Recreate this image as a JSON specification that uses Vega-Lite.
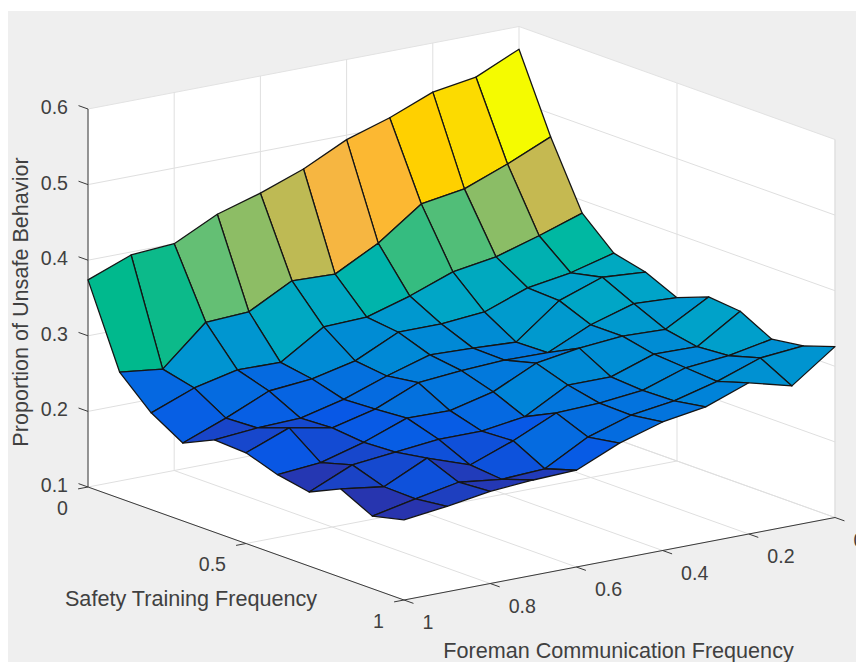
{"$schema":"https://vega.github.io/schema/vega-lite/v6.json","width":848,"height":651,"padding":{"left":8,"top":11,"right":0,"bottom":0},"autosize":"none","background":"white","view":{"fill":"#efefef","stroke":null},
"data":{"values":[
{"kind":"wall","ord":0,"f":1,"t":0,"z":0.1},{"kind":"wall","ord":1,"f":1,"t":0,"z":0.6},{"kind":"wall","ord":2,"f":0,"t":0,"z":0.6},{"kind":"wall","ord":3,"f":0,"t":1,"z":0.6},{"kind":"wall","ord":4,"f":0,"t":1,"z":0.1},{"kind":"wall","ord":5,"f":1,"t":1,"z":0.1},
{"kind":"grid","id":"z1","ord":0,"f":1,"t":0,"z":0.1},{"kind":"grid","id":"z1","ord":1,"f":0,"t":0,"z":0.1},{"kind":"grid","id":"z1","ord":2,"f":0,"t":1,"z":0.1},
{"kind":"grid","id":"z2","ord":0,"f":1,"t":0,"z":0.2},{"kind":"grid","id":"z2","ord":1,"f":0,"t":0,"z":0.2},{"kind":"grid","id":"z2","ord":2,"f":0,"t":1,"z":0.2},
{"kind":"grid","id":"z3","ord":0,"f":1,"t":0,"z":0.3},{"kind":"grid","id":"z3","ord":1,"f":0,"t":0,"z":0.3},{"kind":"grid","id":"z3","ord":2,"f":0,"t":1,"z":0.3},
{"kind":"grid","id":"z4","ord":0,"f":1,"t":0,"z":0.4},{"kind":"grid","id":"z4","ord":1,"f":0,"t":0,"z":0.4},{"kind":"grid","id":"z4","ord":2,"f":0,"t":1,"z":0.4},
{"kind":"grid","id":"z5","ord":0,"f":1,"t":0,"z":0.5},{"kind":"grid","id":"z5","ord":1,"f":0,"t":0,"z":0.5},{"kind":"grid","id":"z5","ord":2,"f":0,"t":1,"z":0.5},
{"kind":"grid","id":"f0","ord":0,"f":0,"t":1,"z":0.1},{"kind":"grid","id":"f0","ord":1,"f":0,"t":0,"z":0.1},{"kind":"grid","id":"f0","ord":2,"f":0,"t":0,"z":0.6},
{"kind":"grid","id":"f2","ord":0,"f":0.2,"t":1,"z":0.1},{"kind":"grid","id":"f2","ord":1,"f":0.2,"t":0,"z":0.1},{"kind":"grid","id":"f2","ord":2,"f":0.2,"t":0,"z":0.6},
{"kind":"grid","id":"f4","ord":0,"f":0.4,"t":1,"z":0.1},{"kind":"grid","id":"f4","ord":1,"f":0.4,"t":0,"z":0.1},{"kind":"grid","id":"f4","ord":2,"f":0.4,"t":0,"z":0.6},
{"kind":"grid","id":"f6","ord":0,"f":0.6,"t":1,"z":0.1},{"kind":"grid","id":"f6","ord":1,"f":0.6,"t":0,"z":0.1},{"kind":"grid","id":"f6","ord":2,"f":0.6,"t":0,"z":0.6},
{"kind":"grid","id":"f8","ord":0,"f":0.8,"t":1,"z":0.1},{"kind":"grid","id":"f8","ord":1,"f":0.8,"t":0,"z":0.1},{"kind":"grid","id":"f8","ord":2,"f":0.8,"t":0,"z":0.6},
{"kind":"grid","id":"t5","ord":0,"f":1,"t":0.5,"z":0.1},{"kind":"grid","id":"t5","ord":1,"f":0,"t":0.5,"z":0.1},{"kind":"grid","id":"t5","ord":2,"f":0,"t":0.5,"z":0.6},
{"kind":"grid","id":"t10","ord":0,"f":0,"t":1,"z":0.1},{"kind":"grid","id":"t10","ord":1,"f":0,"t":1,"z":0.6},
{"kind":"axis","id":"az","ord":0,"f":1,"t":0,"z":0.1},{"kind":"axis","id":"az","ord":1,"f":1,"t":0,"z":0.6},
{"kind":"axis","id":"at","ord":0,"f":1,"t":0,"z":0.1},{"kind":"axis","id":"at","ord":1,"f":1,"t":1,"z":0.1},
{"kind":"axis","id":"af","ord":0,"f":1,"t":1,"z":0.1},{"kind":"axis","id":"af","ord":1,"f":0,"t":1,"z":0.1},
{"kind":"axis","id":"kz1","ord":0,"f":1,"t":0,"z":0.1},{"kind":"axis","id":"kz1","ord":1,"f":1,"t":-0.03,"z":0.1},
{"kind":"axis","id":"kz2","ord":0,"f":1,"t":0,"z":0.2},{"kind":"axis","id":"kz2","ord":1,"f":1,"t":-0.03,"z":0.2},
{"kind":"axis","id":"kz3","ord":0,"f":1,"t":0,"z":0.3},{"kind":"axis","id":"kz3","ord":1,"f":1,"t":-0.03,"z":0.3},
{"kind":"axis","id":"kz4","ord":0,"f":1,"t":0,"z":0.4},{"kind":"axis","id":"kz4","ord":1,"f":1,"t":-0.03,"z":0.4},
{"kind":"axis","id":"kz5","ord":0,"f":1,"t":0,"z":0.5},{"kind":"axis","id":"kz5","ord":1,"f":1,"t":-0.03,"z":0.5},
{"kind":"axis","id":"kz6","ord":0,"f":1,"t":0,"z":0.6},{"kind":"axis","id":"kz6","ord":1,"f":1,"t":-0.03,"z":0.6},
{"kind":"axis","id":"kt0","ord":0,"f":1,"t":0,"z":0.1},{"kind":"axis","id":"kt0","ord":1,"f":1.023,"t":0,"z":0.1},
{"kind":"axis","id":"kt5","ord":0,"f":1,"t":0.5,"z":0.1},{"kind":"axis","id":"kt5","ord":1,"f":1.023,"t":0.5,"z":0.1},
{"kind":"axis","id":"kt1","ord":0,"f":1,"t":1,"z":0.1},{"kind":"axis","id":"kt1","ord":1,"f":1.023,"t":1,"z":0.1},
{"kind":"axis","id":"kf0","ord":0,"f":0,"t":1,"z":0.1},{"kind":"axis","id":"kf0","ord":1,"f":0,"t":1.03,"z":0.1},
{"kind":"axis","id":"kf2","ord":0,"f":0.2,"t":1,"z":0.1},{"kind":"axis","id":"kf2","ord":1,"f":0.2,"t":1.03,"z":0.1},
{"kind":"axis","id":"kf4","ord":0,"f":0.4,"t":1,"z":0.1},{"kind":"axis","id":"kf4","ord":1,"f":0.4,"t":1.03,"z":0.1},
{"kind":"axis","id":"kf6","ord":0,"f":0.6,"t":1,"z":0.1},{"kind":"axis","id":"kf6","ord":1,"f":0.6,"t":1.03,"z":0.1},
{"kind":"axis","id":"kf8","ord":0,"f":0.8,"t":1,"z":0.1},{"kind":"axis","id":"kf8","ord":1,"f":0.8,"t":1.03,"z":0.1},
{"kind":"axis","id":"kf1","ord":0,"f":1,"t":1,"z":0.1},{"kind":"axis","id":"kf1","ord":1,"f":1,"t":1.03,"z":0.1},
{"kind":"lz","label":"0.1","f":1,"t":0,"z":0.1},{"kind":"lz","label":"0.2","f":1,"t":0,"z":0.2},{"kind":"lz","label":"0.3","f":1,"t":0,"z":0.3},{"kind":"lz","label":"0.4","f":1,"t":0,"z":0.4},{"kind":"lz","label":"0.5","f":1,"t":0,"z":0.5},{"kind":"lz","label":"0.6","f":1,"t":0,"z":0.6},
{"kind":"lt","label":"0","f":1,"t":0,"z":0.1},{"kind":"lt","label":"0.5","f":1,"t":0.5,"z":0.1},{"kind":"lt","label":"1","f":1,"t":1,"z":0.1},
{"kind":"lf","label":"0","f":0,"t":1,"z":0.1},{"kind":"lf","label":"0.2","f":0.2,"t":1,"z":0.1},{"kind":"lf","label":"0.4","f":0.4,"t":1,"z":0.1},{"kind":"lf","label":"0.6","f":0.6,"t":1,"z":0.1},{"kind":"lf","label":"0.8","f":0.8,"t":1,"z":0.1},{"kind":"lf","label":"1","f":1,"t":1,"z":0.1},
{"kind":"tz","label":"Proportion of Unsafe Behavior","f":1,"t":0,"z":0.35},
{"kind":"tt","label":"Safety Training Frequency","f":1,"t":0.5,"z":0.1},
{"kind":"tf","label":"Foreman Communication Frequency","f":0.5,"t":1,"z":0.1},
{"kind":"s","f":0,"t":0,"z":0.570},{"kind":"s","f":0,"t":0.1,"z":0.469},{"kind":"s","f":0,"t":0.2,"z":0.383},{"kind":"s","f":0,"t":0.3,"z":0.345},{"kind":"s","f":0,"t":0.4,"z":0.335},{"kind":"s","f":0,"t":0.5,"z":0.316},{"kind":"s","f":0,"t":0.6,"z":0.332},{"kind":"s","f":0,"t":0.7,"z":0.328},{"kind":"s","f":0,"t":0.8,"z":0.306},{"kind":"s","f":0,"t":0.9,"z":0.312},{"kind":"s","f":0,"t":1,"z":0.326},
{"kind":"s","f":0.1,"t":0,"z":0.544},{"kind":"s","f":0.1,"t":0.1,"z":0.444},{"kind":"s","f":0.1,"t":0.2,"z":0.364},{"kind":"s","f":0.1,"t":0.3,"z":0.330},{"kind":"s","f":0.1,"t":0.4,"z":0.339},{"kind":"s","f":0.1,"t":0.5,"z":0.319},{"kind":"s","f":0.1,"t":0.6,"z":0.300},{"kind":"s","f":0.1,"t":0.7,"z":0.292},{"kind":"s","f":0.1,"t":0.8,"z":0.295},{"kind":"s","f":0.1,"t":0.9,"z":0.307},{"kind":"s","f":0.1,"t":1,"z":0.285},
{"kind":"s","f":0.2,"t":0,"z":0.535},{"kind":"s","f":0.2,"t":0.1,"z":0.422},{"kind":"s","f":0.2,"t":0.2,"z":0.347},{"kind":"s","f":0.2,"t":0.3,"z":0.321},{"kind":"s","f":0.2,"t":0.4,"z":0.319},{"kind":"s","f":0.2,"t":0.5,"z":0.302},{"kind":"s","f":0.2,"t":0.6,"z":0.302},{"kind":"s","f":0.2,"t":0.7,"z":0.293},{"kind":"s","f":0.2,"t":0.8,"z":0.290},{"kind":"s","f":0.2,"t":0.9,"z":0.287},{"kind":"s","f":0.2,"t":1,"z":0.300},
{"kind":"s","f":0.3,"t":0,"z":0.512},{"kind":"s","f":0.3,"t":0.1,"z":0.413},{"kind":"s","f":0.3,"t":0.2,"z":0.338},{"kind":"s","f":0.3,"t":0.3,"z":0.300},{"kind":"s","f":0.3,"t":0.4,"z":0.275},{"kind":"s","f":0.3,"t":0.5,"z":0.276},{"kind":"s","f":0.3,"t":0.6,"z":0.297},{"kind":"s","f":0.3,"t":0.7,"z":0.274},{"kind":"s","f":0.3,"t":0.8,"z":0.271},{"kind":"s","f":0.3,"t":0.9,"z":0.272},{"kind":"s","f":0.3,"t":1,"z":0.279},
{"kind":"s","f":0.4,"t":0,"z":0.494},{"kind":"s","f":0.4,"t":0.1,"z":0.372},{"kind":"s","f":0.4,"t":0.2,"z":0.317},{"kind":"s","f":0.4,"t":0.3,"z":0.295},{"kind":"s","f":0.4,"t":0.4,"z":0.278},{"kind":"s","f":0.4,"t":0.5,"z":0.277},{"kind":"s","f":0.4,"t":0.6,"z":0.288},{"kind":"s","f":0.4,"t":0.7,"z":0.274},{"kind":"s","f":0.4,"t":0.8,"z":0.265},{"kind":"s","f":0.4,"t":0.9,"z":0.264},{"kind":"s","f":0.4,"t":1,"z":0.270},
{"kind":"s","f":0.5,"t":0,"z":0.466},{"kind":"s","f":0.5,"t":0.1,"z":0.342},{"kind":"s","f":0.5,"t":0.2,"z":0.300},{"kind":"s","f":0.5,"t":0.3,"z":0.295},{"kind":"s","f":0.5,"t":0.4,"z":0.280},{"kind":"s","f":0.5,"t":0.5,"z":0.274},{"kind":"s","f":0.5,"t":0.6,"z":0.261},{"kind":"s","f":0.5,"t":0.7,"z":0.243},{"kind":"s","f":0.5,"t":0.8,"z":0.263},{"kind":"s","f":0.5,"t":0.9,"z":0.246},{"kind":"s","f":0.5,"t":1,"z":0.253},
{"kind":"s","f":0.6,"t":0,"z":0.445},{"kind":"s","f":0.6,"t":0.1,"z":0.344},{"kind":"s","f":0.6,"t":0.2,"z":0.298},{"kind":"s","f":0.6,"t":0.3,"z":0.268},{"kind":"s","f":0.6,"t":0.4,"z":0.263},{"kind":"s","f":0.6,"t":0.5,"z":0.269},{"kind":"s","f":0.6,"t":0.6,"z":0.247},{"kind":"s","f":0.6,"t":0.7,"z":0.235},{"kind":"s","f":0.6,"t":0.8,"z":0.237},{"kind":"s","f":0.6,"t":0.9,"z":0.215},{"kind":"s","f":0.6,"t":1,"z":0.228},
{"kind":"s","f":0.7,"t":0,"z":0.428},{"kind":"s","f":0.7,"t":0.1,"z":0.314},{"kind":"s","f":0.7,"t":0.2,"z":0.262},{"kind":"s","f":0.7,"t":0.3,"z":0.255},{"kind":"s","f":0.7,"t":0.4,"z":0.243},{"kind":"s","f":0.7,"t":0.5,"z":0.245},{"kind":"s","f":0.7,"t":0.6,"z":0.248},{"kind":"s","f":0.7,"t":0.7,"z":0.235},{"kind":"s","f":0.7,"t":0.8,"z":0.216},{"kind":"s","f":0.7,"t":0.9,"z":0.212},{"kind":"s","f":0.7,"t":1,"z":0.226},
{"kind":"s","f":0.8,"t":0,"z":0.400},{"kind":"s","f":0.8,"t":0.1,"z":0.311},{"kind":"s","f":0.8,"t":0.2,"z":0.263},{"kind":"s","f":0.8,"t":0.3,"z":0.250},{"kind":"s","f":0.8,"t":0.4,"z":0.229},{"kind":"s","f":0.8,"t":0.5,"z":0.231},{"kind":"s","f":0.8,"t":0.6,"z":0.227},{"kind":"s","f":0.8,"t":0.7,"z":0.229},{"kind":"s","f":0.8,"t":0.8,"z":0.236},{"kind":"s","f":0.8,"t":0.9,"z":0.219},{"kind":"s","f":0.8,"t":1,"z":0.222},
{"kind":"s","f":0.9,"t":0,"z":0.396},{"kind":"s","f":0.9,"t":0.1,"z":0.260},{"kind":"s","f":0.9,"t":0.2,"z":0.250},{"kind":"s","f":0.9,"t":0.3,"z":0.225},{"kind":"s","f":0.9,"t":0.4,"z":0.227},{"kind":"s","f":0.9,"t":0.5,"z":0.242},{"kind":"s","f":0.9,"t":0.6,"z":0.211},{"kind":"s","f":0.9,"t":0.7,"z":0.223},{"kind":"s","f":0.9,"t":0.8,"z":0.209},{"kind":"s","f":0.9,"t":0.9,"z":0.208},{"kind":"s","f":0.9,"t":1,"z":0.213},
{"kind":"s","f":1,"t":0,"z":0.374},{"kind":"s","f":1,"t":0.1,"z":0.267},{"kind":"s","f":1,"t":0.2,"z":0.228},{"kind":"s","f":1,"t":0.3,"z":0.203},{"kind":"s","f":1,"t":0.4,"z":0.222},{"kind":"s","f":1,"t":0.5,"z":0.220},{"kind":"s","f":1,"t":0.6,"z":0.206},{"kind":"s","f":1,"t":0.7,"z":0.198},{"kind":"s","f":1,"t":0.8,"z":0.217},{"kind":"s","f":1,"t":0.9,"z":0.196},{"kind":"s","f":1,"t":1,"z":0.206}
]},
"transform":[
{"calculate":"88+431*(1-datum.f)+316*datum.t","as":"px"},
{"calculate":"487-82.5*(1-datum.f)+113*datum.t-(datum.z-0.1)*756","as":"py"}
],
"encoding":{
"x":{"field":"px","type":"quantitative","scale":{"domain":[8,856],"nice":false,"zero":false},"axis":null},
"y":{"field":"py","type":"quantitative","scale":{"domain":[662,11],"nice":false,"zero":false},"axis":null}
},
"layer":[
{"transform":[{"filter":"datum.kind=='wall'"}],"mark":{"type":"line","interpolate":"linear-closed","fill":"white","stroke":"#e2e2e2","strokeWidth":1},"encoding":{"order":{"field":"ord","type":"quantitative"}}},
{"transform":[{"filter":"datum.kind=='grid'"}],"mark":{"type":"line","stroke":"#dfdfdf","strokeWidth":1},"encoding":{"detail":{"field":"id"},"order":{"field":"ord","type":"quantitative"}}},
{"transform":[{"filter":"datum.kind=='axis'"}],"mark":{"type":"line","stroke":"#3a3a3a","strokeWidth":1},"encoding":{"detail":{"field":"id"},"order":{"field":"ord","type":"quantitative"}}},
{"transform":[{"filter":"datum.kind=='s'"},
{"calculate":"round((1-datum.f)*10)","as":"i"},{"calculate":"round(datum.t*10)","as":"j"},
{"calculate":"[0,1,2,3]","as":"k"},{"flatten":["k"]},
{"calculate":"datum.i-((datum.k==1||datum.k==2)?1:0)","as":"ci"},
{"calculate":"datum.j-(datum.k>=2?1:0)","as":"cj"},
{"filter":"datum.ci>=0&&datum.ci<=9&&datum.cj>=0&&datum.cj<=9"},
{"calculate":"datum.ci*100+datum.cj","as":"cell"},
{"calculate":"datum.k==1?datum.z:null","as":"cz"},
{"joinaggregate":[{"op":"max","field":"cz","as":"c"}],"groupby":["cell"]}],
"mark":{"type":"line","interpolate":"linear-closed","stroke":"#151515","strokeWidth":1.3,"strokeJoin":"round"},
"encoding":{"detail":{"field":"cell"},"order":{"field":"k","type":"quantitative"},
"fill":{"field":"c","type":"quantitative","legend":null,"scale":{"domain":[0.196,0.243,0.2895,0.336,0.383,0.396,0.43,0.4765,0.495,0.514,0.534,0.57],"interpolate":"rgb","range":["#33279a","#0858e6","#0085d8","#00a5c8","#00b8a2","#00b98d","#6abf72","#d6b84b","#f8b640","#fdb830","#ffcf00","#f5fb00"]}}}},
{"transform":[{"filter":"datum.kind=='lz'"}],"mark":{"type":"text","font":"Liberation Sans","fontSize":19.6,"color":"#404040","align":"right","baseline":"middle","dx":-20,"dy":-1},"encoding":{"text":{"field":"label"}}},
{"transform":[{"filter":"datum.kind=='lt'"}],"mark":{"type":"text","font":"Liberation Sans","fontSize":19.6,"color":"#404040","align":"right","baseline":"middle","dx":-20,"dy":21.5},"encoding":{"text":{"field":"label"}}},
{"transform":[{"filter":"datum.kind=='lf'"}],"mark":{"type":"text","font":"Liberation Sans","fontSize":19.6,"color":"#404040","align":"left","baseline":"middle","dx":18.5,"dy":23},"encoding":{"text":{"field":"label"}}},
{"transform":[{"filter":"datum.kind=='tt'"}],"mark":{"type":"text","font":"Liberation Sans","fontSize":21.6,"color":"#404040","align":"center","baseline":"middle","dx":-55,"dy":56},"encoding":{"text":{"field":"label"}}},
{"transform":[{"filter":"datum.kind=='tf'"}],"mark":{"type":"text","font":"Liberation Sans","fontSize":21.6,"color":"#404040","align":"center","baseline":"middle","dx":-1,"dy":93},"encoding":{"text":{"field":"label"}}},
{"transform":[{"filter":"datum.kind=='tz'"}],"mark":{"type":"text","font":"Liberation Sans","fontSize":21.6,"color":"#404040","align":"center","baseline":"middle","angle":270,"dx":-4,"dy":-66},"encoding":{"text":{"field":"label"}}}
]}
